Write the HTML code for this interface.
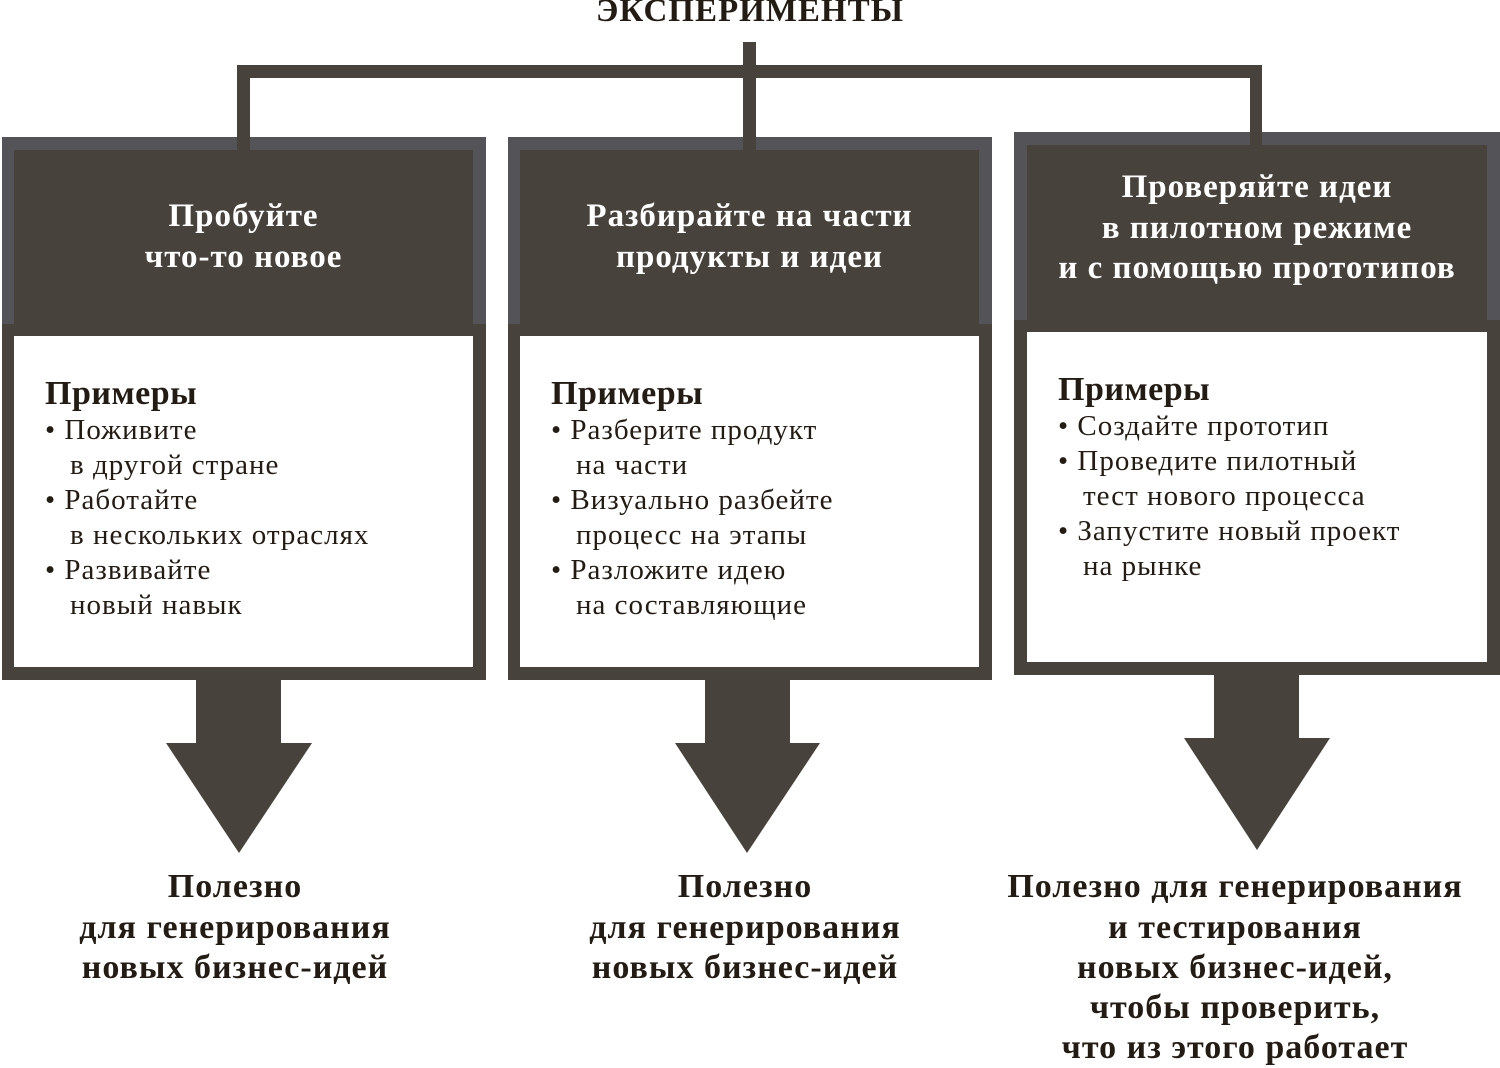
<!DOCTYPE html>
<html><head><meta charset="utf-8">
<style>
*{margin:0;padding:0;box-sizing:border-box}
body{width:1500px;height:1067px;background:#fff;position:relative;overflow:hidden;font-family:"Liberation Serif",serif;color:#231c14}
.a{position:absolute}
.d{background:#47423b}
.g{background:#545358}
.w{background:#fff}
.t{position:absolute;white-space:nowrap;line-height:40px;height:40px}
.h{color:#fff;font-weight:bold;font-size:33px;letter-spacing:1px;text-align:center}
.p{font-size:29px;letter-spacing:1px;line-height:36px;height:36px}
.pb{font-weight:bold;font-size:34px;letter-spacing:0.5px;line-height:36px;height:36px}
.b{font-weight:bold;font-size:34px;letter-spacing:1px;text-align:center}
</style></head><body>
<div class="t b" style="left:0;width:1500px;top:-9px;font-size:33px">ЭКСПЕРИМЕНТЫ</div>
<div class="a d" style="left:237px;top:65px;width:1025px;height:13px"></div>
<div class="a d" style="left:743px;top:42px;width:13px;height:110px"></div>

<div class="a d" style="left:2px;top:137px;width:484px;height:543px"></div>
<div class="a g" style="left:2px;top:137px;width:484px;height:187px"></div>
<div class="a d" style="left:14px;top:150px;width:459px;height:186px"></div>
<div class="a w" style="left:14px;top:336px;width:459px;height:331px"></div>
<div class="a d" style="left:237px;top:65px;width:13px;height:90px"></div>

<div class="a d" style="left:508px;top:137px;width:484px;height:543px"></div>
<div class="a g" style="left:508px;top:137px;width:484px;height:187px"></div>
<div class="a d" style="left:520px;top:150px;width:459px;height:186px"></div>
<div class="a w" style="left:520px;top:336px;width:459px;height:331px"></div>
<div class="a d" style="left:743px;top:42px;width:13px;height:113px"></div>

<div class="a d" style="left:1014px;top:132px;width:486px;height:543px"></div>
<div class="a g" style="left:1014px;top:132px;width:486px;height:188px"></div>
<div class="a d" style="left:1027px;top:145px;width:460px;height:187px"></div>
<div class="a w" style="left:1027px;top:332px;width:460px;height:330px"></div>
<div class="a d" style="left:1250px;top:65px;width:12px;height:85px"></div>

<svg class="a" style="left:0;top:0" width="1500" height="1067">
<g fill="#47423b">
<polygon points="196,679 281,679 281,743 312,743 239,853 166,743 196,743"/>
<polygon points="705,679 790,679 790,743 820,743 747,853 675,743 705,743"/>
<polygon points="1214,674 1299,674 1299,738 1330,738 1257,850 1184,738 1214,738"/>
</g></svg>

<div class="t h" style="left:14px;width:459px;top:196px">Пробуйте</div>
<div class="t h" style="left:14px;width:459px;top:237px">что-то новое</div>
<div class="t h" style="left:520px;width:459px;top:196px">Разбирайте на части</div>
<div class="t h" style="left:520px;width:459px;top:237px">продукты и идеи</div>
<div class="t h" style="left:1027px;width:460px;top:167px">Проверяйте идеи</div>
<div class="t h" style="left:1027px;width:460px;top:208px">в пилотном режиме</div>
<div class="t h" style="left:1027px;width:460px;top:248px">и с помощью прототипов</div>

<div class="t pb" style="left:45px;top:376px">Примеры</div>
<div class="t p" style="left:45px;top:412px">• Поживите</div>
<div class="t p" style="left:70px;top:447px">в другой стране</div>
<div class="t p" style="left:45px;top:482px">• Работайте</div>
<div class="t p" style="left:70px;top:517px">в нескольких отраслях</div>
<div class="t p" style="left:45px;top:552px">• Развивайте</div>
<div class="t p" style="left:70px;top:587px">новый навык</div>

<div class="t pb" style="left:551px;top:376px">Примеры</div>
<div class="t p" style="left:551px;top:412px">• Разберите продукт</div>
<div class="t p" style="left:576px;top:447px">на части</div>
<div class="t p" style="left:551px;top:482px">• Визуально разбейте</div>
<div class="t p" style="left:576px;top:517px">процесс на этапы</div>
<div class="t p" style="left:551px;top:552px">• Разложите идею</div>
<div class="t p" style="left:576px;top:587px">на составляющие</div>

<div class="t pb" style="left:1058px;top:372px">Примеры</div>
<div class="t p" style="left:1058px;top:408px">• Создайте прототип</div>
<div class="t p" style="left:1058px;top:443px">• Проведите пилотный</div>
<div class="t p" style="left:1083px;top:478px">тест нового процесса</div>
<div class="t p" style="left:1058px;top:513px">• Запустите новый проект</div>
<div class="t p" style="left:1083px;top:548px">на рынке</div>

<div class="t b" style="left:35px;width:400px;top:867px">Полезно</div>
<div class="t b" style="left:35px;width:400px;top:908px">для генерирования</div>
<div class="t b" style="left:35px;width:400px;top:948px">новых бизнес-идей</div>
<div class="t b" style="left:545px;width:400px;top:867px">Полезно</div>
<div class="t b" style="left:545px;width:400px;top:908px">для генерирования</div>
<div class="t b" style="left:545px;width:400px;top:948px">новых бизнес-идей</div>
<div class="t b" style="left:985px;width:500px;top:867px">Полезно для генерирования</div>
<div class="t b" style="left:985px;width:500px;top:908px">и тестирования</div>
<div class="t b" style="left:985px;width:500px;top:948px">новых бизнес-идей,</div>
<div class="t b" style="left:985px;width:500px;top:988px">чтобы проверить,</div>
<div class="t b" style="left:985px;width:500px;top:1028px">что из этого работает</div>
</body></html>
